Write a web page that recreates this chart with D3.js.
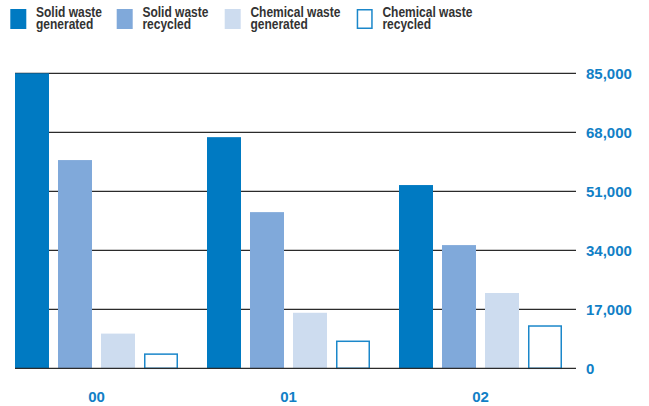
<!DOCTYPE html>
<html>
<head>
<meta charset="utf-8">
<script src="https://cdn.jsdelivr.net/npm/d3@7"></script>
<style>
  html, body { margin: 0; padding: 0; background: #fff; }
  svg { display: block; }
  .legend text { font-family: "Liberation Sans", Arial, Helvetica, sans-serif; font-weight: bold; font-size: 15px; fill: #333; }
  .axis text { font-family: "Liberation Sans", Arial, Helvetica, sans-serif; font-weight: bold; font-size: 15px; fill: #1180c6; }
</style>
</head>
<body>
<svg id="chart" width="649" height="406"></svg>
<script>
// Waste figures by year (tonnes)
const years = ["00", "01", "02"];
const seriesKeys = ["solidGen", "solidRec", "chemGen", "chemRec"];
const seriesLabels = [
  ["Solid waste", "generated"],
  ["Solid waste", "recycled"],
  ["Chemical waste", "generated"],
  ["Chemical waste", "recycled"]
];
const solidGenerated = [85000, 66600, 52800];
const solidRecycled = [60000, 45000, 35500];
const chemicalGenerated = [10000, 16000, 21700];
const chemicalRecycled = [4300, 8000, 12400];
const yTicks = [0, 17000, 34000, 51000, 68000, 85000];

const seriesValues = [solidGenerated, solidRecycled, chemicalGenerated, chemicalRecycled];
const fills = ["#007ac2", "#80a9da", "#cddcef", "#ffffff"];
const strokes = [null, null, null, "#1b87ca"];

const svg = d3.select("#chart");

const y = d3.scaleLinear().domain([0, 85000]).range([368.3, 73.3]);
const x0 = d3.scaleBand().domain(years).range([15, 562]).paddingInner(29 / 192).paddingOuter(0);
const x1 = d3.scaleBand().domain(seriesKeys).range([0, x0.bandwidth()]).paddingInner(9 / 43).paddingOuter(0);

const gridRight = 576;
const fmt = d3.format(",");

// Horizontal gridlines (behind the bars)
const grid = svg.append("g").attr("class", "grid");
grid.selectAll("line")
  .data(yTicks.filter(d => d > 0))
  .join("line")
  .attr("x1", 15).attr("x2", gridRight)
  .attr("y1", d => y(d)).attr("y2", d => y(d))
  .attr("stroke", "#2b2b2b").attr("stroke-width", 1.3);

// Bars
const rows = years.map((yr, i) => ({ year: yr, values: seriesKeys.map((k, j) => ({ key: k, idx: j, value: seriesValues[j][i] })) }));

const groups = svg.append("g").selectAll("g")
  .data(rows)
  .join("g")
  .attr("transform", d => `translate(${x0(d.year)},0)`);

groups.selectAll("rect")
  .data(d => d.values)
  .join("rect")
  .attr("x", d => strokes[d.idx] ? x1(d.key) + 0.75 : x1(d.key))
  .attr("width", d => strokes[d.idx] ? x1.bandwidth() - 1.5 : x1.bandwidth())
  .attr("y", d => strokes[d.idx] ? y(d.value) + 0.75 : y(d.value))
  .attr("height", d => strokes[d.idx] ? y(0) - y(d.value) - 0.75 : y(0) - y(d.value))
  .attr("fill", d => fills[d.idx])
  .attr("stroke", d => strokes[d.idx] || "none")
  .attr("stroke-width", 1.5);

// Baseline on top of the bars
svg.append("line")
  .attr("x1", 15).attr("x2", gridRight)
  .attr("y1", y(0)).attr("y2", y(0))
  .attr("stroke", "#2b2b2b").attr("stroke-width", 1.3);

// Right-hand value axis labels
const yAxis = svg.append("g").attr("class", "axis");
yAxis.selectAll("text")
  .data(yTicks)
  .join("text")
  .attr("x", 586)
  .attr("y", d => y(d))
  .attr("dy", "0.36em")
  .text(d => fmt(d));

// Year labels
const xAxis = svg.append("g").attr("class", "axis");
xAxis.selectAll("text")
  .data(years)
  .join("text")
  .attr("x", d => x0(d) + x0.bandwidth() / 2)
  .attr("y", 402)
  .attr("text-anchor", "middle")
  .text(d => d);

// Legend: swatch plus a condensed two-line label
const legendX = [10.3, 116.7, 224.7, 356.7];
const legend = svg.append("g").attr("class", "legend");
const item = legend.selectAll("g")
  .data(seriesKeys)
  .join("g")
  .attr("transform", (d, i) => `translate(${legendX[i]},0)`);

item.append("rect")
  .attr("x", (d, i) => strokes[i] ? 0.75 : 0)
  .attr("y", (d, i) => strokes[i] ? 9.75 : 9)
  .attr("width", (d, i) => strokes[i] ? 14.5 : 16)
  .attr("height", (d, i) => strokes[i] ? 18.5 : 20)
  .attr("fill", (d, i) => fills[i])
  .attr("stroke", (d, i) => strokes[i] || "none")
  .attr("stroke-width", 1.5);

const label = item.append("text")
  .attr("transform", "translate(25.7,0) scale(0.8,1)");
label.append("tspan")
  .attr("x", 0)
  .attr("y", 16.7)
  .text((d, i) => seriesLabels[i][0]);
label.append("tspan")
  .attr("x", 0)
  .attr("y", 29.5)
  .text((d, i) => seriesLabels[i][1]);
</script>
</body>
</html>
